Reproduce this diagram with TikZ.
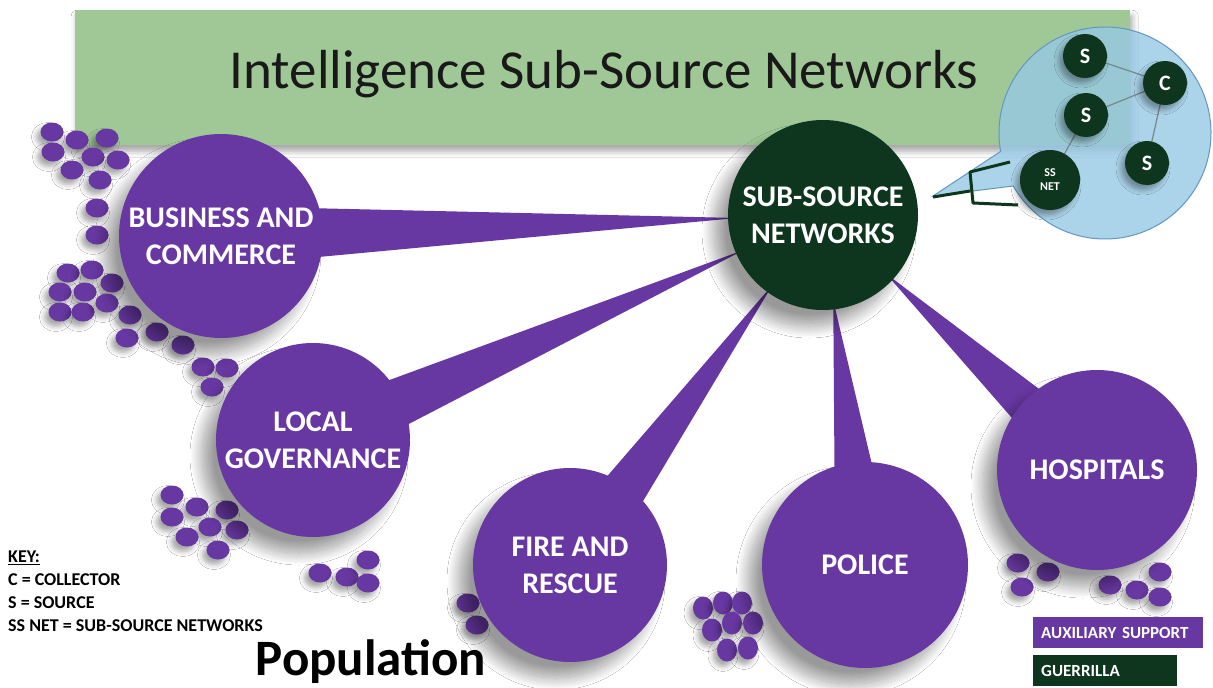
\documentclass[tikz,border=0pt]{standalone}
\usepackage{fontspec}
\setmainfont{Carlito}
\usetikzlibrary{shapes.geometric,shadows.blur,calc}
\definecolor{purp}{RGB}{104,56,162}
\definecolor{dgreen}{RGB}{14,54,30}
\definecolor{bannergreen}{RGB}{160,200,150}
\definecolor{bubble}{RGB}{150,200,228}
\definecolor{bubbleedge}{RGB}{100,150,195}
\definecolor{netline}{RGB}{120,135,140}
\begin{document}
\begin{tikzpicture}[x=1pt,y=-1pt,
  shad/.style={blur shadow={shadow xshift=-14pt, shadow yshift=-16pt, shadow blur radius=12pt, shadow blur steps=24, shadow opacity=40}},
  shadsmall/.style={blur shadow={shadow xshift=-4pt, shadow yshift=-5pt, shadow blur radius=5pt, shadow opacity=35}},
  pcirc/.style={circle, fill=purp, inner sep=0pt, text=white, font=\bfseries\fontsize{30}{37}\selectfont, align=center, shad},
  gcirc/.style={circle, fill=dgreen, inner sep=0pt, text=white, font=\bfseries\fontsize{30}{37}\selectfont, align=center, shad},
  scirc/.style={circle, fill=dgreen, inner sep=0pt, minimum size=44pt, text=white, font=\bfseries\fontsize{22}{24}\selectfont, align=center, shadsmall},
  wedgest/.style={fill=purp},
  dotst/.style={fill=purp, shadsmall},
  netst/.style={draw=netline, line width=1.2pt},
  brack/.style={draw=dgreen, line width=3pt, line join=round},
  keytext/.style={font=\bfseries\fontsize{18}{23}\selectfont, align=left, anchor=north west, inner sep=0pt},
  legbox/.style={anchor=north west, text=white, font=\bfseries\fontsize{17}{19}\selectfont, align=left, inner xsep=8pt, inner ysep=0pt, minimum height=31pt}
]
\useasboundingbox (0,0) rectangle (1213,688);
\fill[white] (0,0) rectangle (1213,688);

% banner
\node[fill=bannergreen, minimum width=1055pt, minimum height=135pt, anchor=north west, inner sep=0pt,
  blur shadow={shadow xshift=2pt, shadow yshift=-6pt, shadow blur radius=6pt, shadow opacity=35}] (banner) at (75,10) {};
\node[font=\fontsize{55}{60}\selectfont, text={rgb,255:red,25;green,25;blue,25}] (title) at (604,74) {Intelligence Sub-Source Networks};

% main circles (coordinates)
\coordinate (ssc) at (823,215);
\coordinate (bcc) at (221,236);
\coordinate (lgc) at (313,440);
\coordinate (frc) at (570,565);
\coordinate (poc) at (865,565);
\coordinate (hoc) at (1097,470);

% wedges
\foreach \t in {bcc,lgc,frc,poc,hoc}{
  \fill[wedgest] ($(ssc)!86pt!(\t)$) -- ($(\t)!30pt!90:(ssc)$) -- ($(\t)!30pt!-90:(ssc)$) -- cycle;
}

% dots
\foreach \x/\y in {52/132,77/140,107/138,53/152,93/157,118/160,72/170,100/180,97/208,97/235,
  68/273,92/270,60/292,85/292,112/283,60/312,83/312,107/303,130/315,127/338,157/332,183/345,203/367,227/368,212/387,
  172/495,197/507,227/510,172/517,210/527,237/530,187/537,218/550,
  320/573,347/577,368/560,368/583,
  468/603,477/625,
  1018/563,1022/587,1048/572,1110/585,1137/590,1160/572,1160/597}{
  \fill[dotst] (\x,\y) ellipse [x radius=11.5, y radius=9.5];
}
\foreach \x/\y in {703/608,723/603,742/603,712/630,732/623,753/623,727/650,748/648}{
  \fill[dotst] (\x,\y) ellipse [x radius=10, y radius=11.5];
}

% purple circles
\node[pcirc, minimum size=204pt] (bc) at (bcc) {BUSINESS AND\\COMMERCE};
\node[pcirc, minimum size=194pt] (lg) at (lgc) {LOCAL\\GOVERNANCE};
\node[pcirc, minimum size=194pt] (fr) at (frc) {FIRE AND\\RESCUE};
\node[pcirc, minimum size=206pt] (po) at (poc) {POLICE};
\node[pcirc, minimum size=200pt] (ho) at (hoc) {HOSPITALS};

% sub-source networks
\node[gcirc, minimum size=190pt] (ss) at (ssc) {SUB-SOURCE\\NETWORKS};

% callout bubble
\coordinate (bubc) at (1105,133);
\coordinate (tip) at (933,196);
\path[fill=bubble, fill opacity=0.8, draw=bubbleedge, line width=1pt]
  (tip) -- ($(bubc)+(170:106)$) arc[start angle=170, end angle=510, radius=106] -- cycle;

% network inside bubble: lines first, then nodes
\coordinate (ps1) at (1085,56);
\coordinate (pc1) at (1165,83);
\coordinate (ps2) at (1086,115);
\coordinate (ps3) at (1147,163);
\coordinate (pss) at (1050,180);
\draw[netst] (ps1) -- (pc1);
\draw[netst] (ps2) -- (pc1);
\draw[netst] (pc1) -- (ps3);
\draw[netst] (ps2) -- (pss);
\node[scirc] (s1) at (ps1) {S};
\node[scirc] (c1) at (pc1) {C};
\node[scirc] (s2) at (ps2) {S};
\node[scirc] (s3) at (ps3) {S};
\node[scirc, minimum size=60pt, font=\bfseries\fontsize{12}{14}\selectfont] (ssnet) at (pss) {SS\\NET};

% bracket
\coordinate (b0) at (933,197);
\coordinate (b1) at (970,191);
\coordinate (b2) at (1010,162);
\coordinate (b3) at (970,172);
\coordinate (b4) at (973,203);
\coordinate (b5) at (1018,205);
\draw[brack] (b0) -- (b1);
\draw[brack] (b2) -- (b3) -- (b4) -- (b5);

% key
\node[keytext] (key) at (8,551) {\underline{KEY:}\\C = COLLECTOR\\S = SOURCE\\SS NET = SUB-SOURCE NETWORKS};

% population
\node[font=\bfseries\fontsize{51}{55}\selectfont] (pop) at (371,662) {Population};

% legend
\node[legbox, fill=purp, text width=154pt] (leg1) at (1033,617) {AUXILIARY SUPPORT};
\node[legbox, fill=dgreen, text width=128pt] (leg2) at (1033,655) {GUERRILLA};
\end{tikzpicture}
\end{document}
